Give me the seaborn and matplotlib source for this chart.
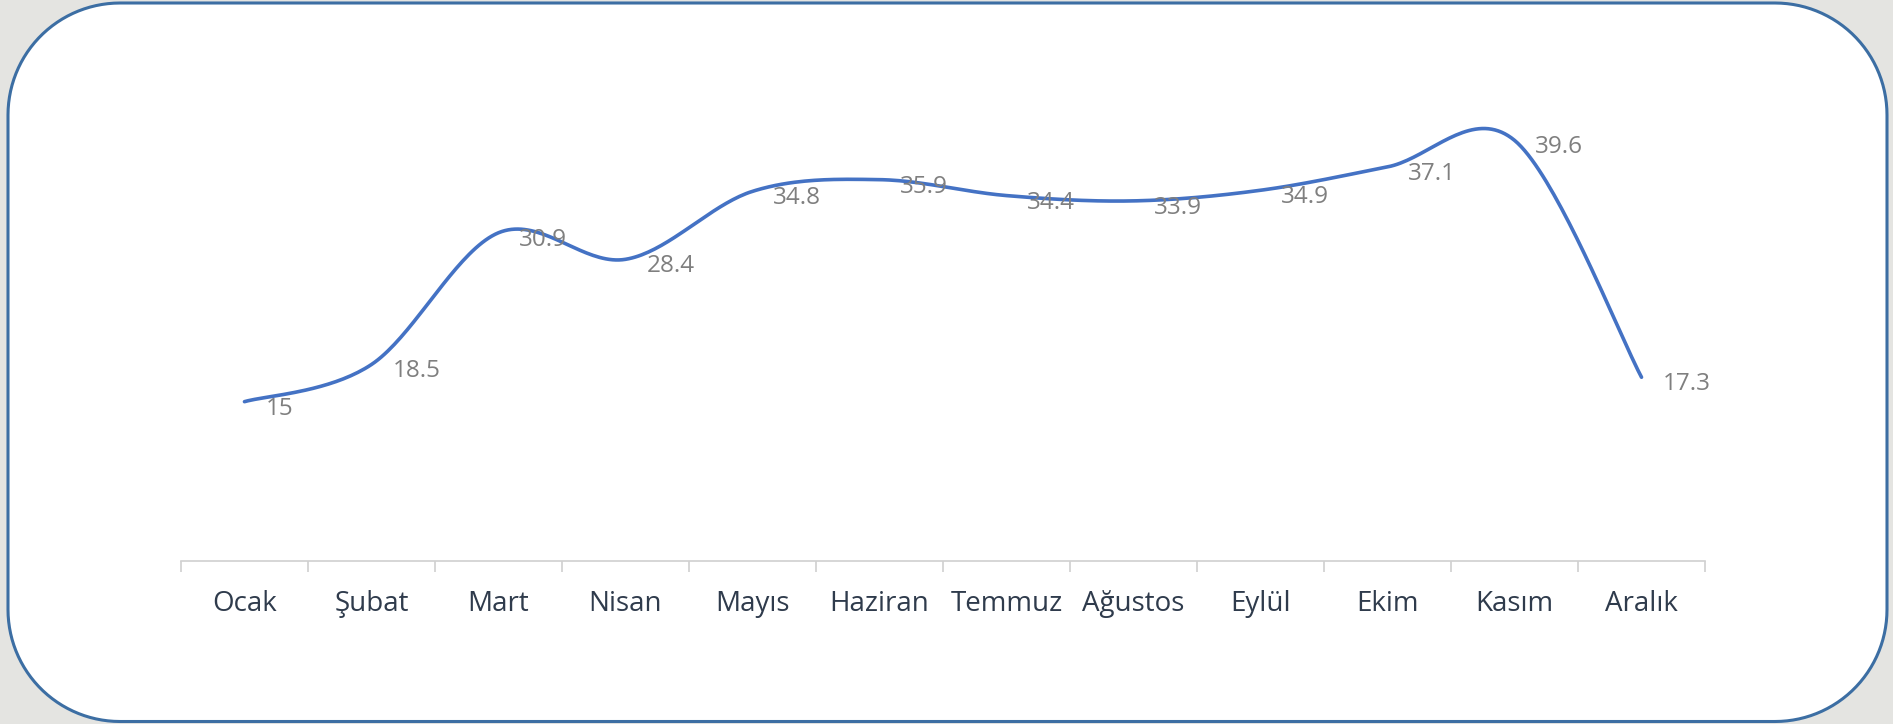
import numpy as np
import pandas as pd
import seaborn as sns
import matplotlib.pyplot as plt
from matplotlib.patches import Polygon

months = ['Ocak', 'Şubat', 'Mart', 'Nisan', 'Mayıs', 'Haziran', 'Temmuz',
          'Ağustos', 'Eylül', 'Ekim', 'Kasım', 'Aralık']
values = [15, 18.5, 30.9, 28.4, 34.8, 35.9, 34.4, 33.9, 34.9, 37.1, 39.6, 17.3]

sns.set_style('white')
plt.rcParams['font.family'] = ['Open Sans', 'DejaVu Sans']

# smoothed line the way Excel does it (Bezier, control points at 1/6 of neighbour span)
x = np.arange(len(values), dtype=float)
y = np.array(values, dtype=float)
px = np.concatenate([[x[0]], x, [x[-1]]])
py = np.concatenate([[y[0]], y, [y[-1]]])
t = np.linspace(0, 1, 40)
sx, sy = [], []
for i in range(len(values) - 1):
    p0 = np.array([px[i + 1], py[i + 1]])
    p3 = np.array([px[i + 2], py[i + 2]])
    c1 = p0 + (np.array([px[i + 2], py[i + 2]]) - np.array([px[i], py[i]])) / 6
    c2 = p3 - (np.array([px[i + 3], py[i + 3]]) - np.array([px[i + 1], py[i + 1]])) / 6
    b = ((1 - t) ** 3)[:, None] * p0 + (3 * (1 - t) ** 2 * t)[:, None] * c1 \
        + (3 * (1 - t) * t ** 2)[:, None] * c2 + (t ** 3)[:, None] * p3
    sx.extend(b[:, 0])
    sy.extend(b[:, 1])
curve = pd.DataFrame({'x': sx, 'y': sy})

fig = plt.figure(figsize=(18.93, 7.24), dpi=100)
fig.patch.set_facecolor('#e4e4e1')

# rounded white card with blue border (inches)
x0, y0, x1, y1, r = 0.08, 0.025, 18.87, 7.21, 1.12
pts = []
for cx, cy, a0 in [(x1 - r, y0 + r, -90), (x1 - r, y1 - r, 0),
                   (x0 + r, y1 - r, 90), (x0 + r, y0 + r, 180)]:
    ang = np.radians(np.linspace(a0, a0 + 90, 30))
    pts += list(zip(cx + r * np.cos(ang), cy + r * np.sin(ang)))
frame = Polygon(pts, closed=True, transform=fig.dpi_scale_trans,
                facecolor='white', edgecolor='#3c6ea3', linewidth=2.2, zorder=-1)
fig.patches.append(frame)

ax = fig.add_axes([0.0956, 0.2251, 0.8051, 0.6603])
ax.set_facecolor('none')
sns.lineplot(data=curve, x='x', y='y', sort=False, color='#4472c4',
             linewidth=2.6, ax=ax)

for i, v in enumerate(values):
    ax.annotate(f'{v:g}', (i, v), xytext=(15, -5), textcoords='offset points',
                ha='left', va='center', fontsize=17.5, color='#7f7f7f')

ax.set_xlim(-0.5, len(values) - 0.5)
ax.set_ylim(0, 45)
ax.set_xticks(x)
ax.set_xticklabels(months, fontsize=20, color='#2f3b4c')
ax.set_xticks(np.arange(len(values) + 1) - 0.5, minor=True)
ax.tick_params(axis='x', which='major', bottom=False, length=0, pad=21)
ax.tick_params(axis='x', which='minor', bottom=True, length=8,
               color='#d0d0d0', width=1.2)
ax.set_yticks([])
ax.set_xlabel('')
ax.set_ylabel('')
for s in ['top', 'left', 'right']:
    ax.spines[s].set_visible(False)
ax.spines['bottom'].set_color('#d0d0d0')
ax.spines['bottom'].set_linewidth(1.2)

fig.savefig('out.png', dpi=100, facecolor=fig.get_facecolor())
